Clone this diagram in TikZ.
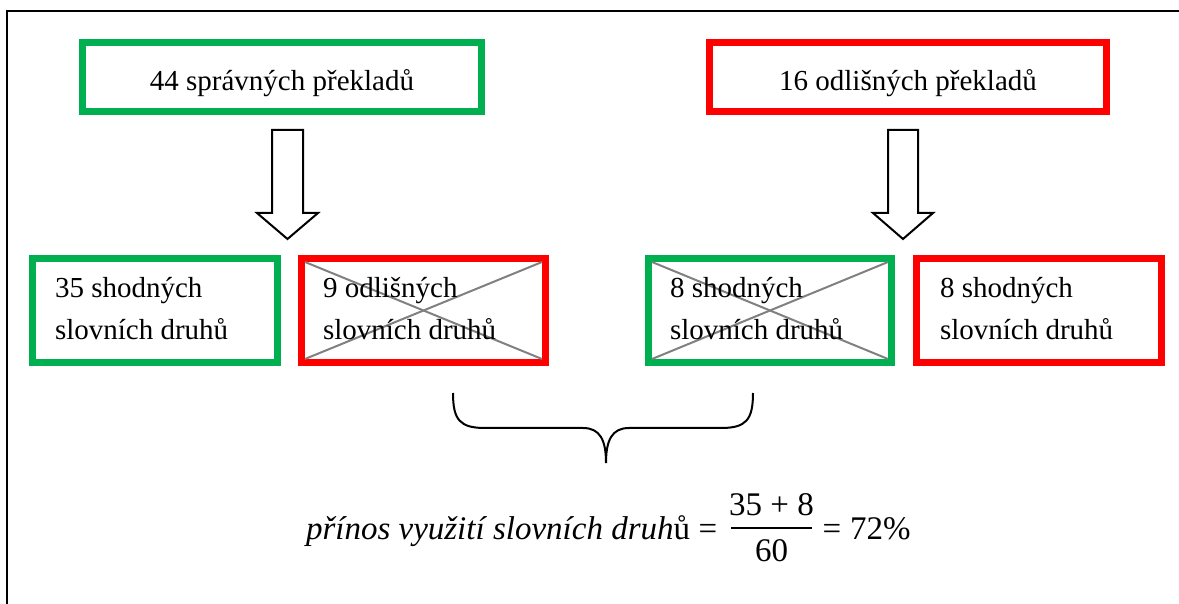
\documentclass[tikz,border=0pt]{standalone}
\usepackage{fontspec}
\setmainfont{Liberation Serif}
\definecolor{cgreen}{HTML}{00B050}
\definecolor{cred}{HTML}{FF0000}
\tikzset{
  box/.style={draw, line width=3.5pt, rectangle, inner sep=0pt, outer sep=0pt},
  gbox/.style={box, draw=cgreen},
  rbox/.style={box, draw=cred},
  xline/.style={draw=gray, line width=1pt},
  lbl/.style={inner sep=0pt, outer sep=0pt, font=\fontsize{14.5}{21}\selectfont},
  blk/.style={lbl, anchor=base west, align=left},
  eq/.style={inner sep=0pt, outer sep=0pt, font=\fontsize{16.5}{19}\selectfont},
  blockarrow/.style={draw=black, line width=1pt, fill=white, line join=miter},
  frameline/.style={draw=black, line width=1pt},
}
\begin{document}
\begin{tikzpicture}[x=0.5pt,y=-0.5pt]
\useasboundingbox (0,0) rectangle (1179,604);
% frame
\draw[frameline] (1179,11) -- (7,11) -- (7,604);
% top boxes
\node[gbox, minimum width=199.5pt, minimum height=34.5pt] (t1) at (282,77) {};
\node[rbox, minimum width=198.5pt, minimum height=34.5pt] (t2) at (908,77) {};
\node[lbl, anchor=base] (t1l) at (282,91) {44 správných překladů};
\node[lbl, anchor=base] (t2l) at (908,91) {16 odlišných překladů};
% block arrows
\draw[blockarrow] (272,130) -- (303,130) -- (303,213) -- (318,213) -- (287.5,239) -- (257,213) -- (272,213) -- cycle;
\draw[blockarrow] (888,130) -- (918,130) -- (918,213) -- (933,213) -- (903,239) -- (873,213) -- (888,213) -- cycle;
% bottom boxes
\node[gbox, minimum width=122.5pt, minimum height=52pt] (b1) at (155,310.5) {};
\node[rbox, minimum width=122pt, minimum height=52pt] (b2) at (423.5,310.5) {};
\node[gbox, minimum width=121.5pt, minimum height=52pt] (b3) at (770,310.5) {};
\node[rbox, minimum width=122.5pt, minimum height=52pt] (b4) at (1039,310.5) {};
% crosses
\draw[xline] ([shift={(3.5,3.5)}]b2.north west) -- ([shift={(-3.5,-3.5)}]b2.south east);
\draw[xline] ([shift={(3.5,-3.5)}]b2.south west) -- ([shift={(-3.5,3.5)}]b2.north east);
\draw[xline] ([shift={(3.5,3.5)}]b3.north west) -- ([shift={(-3.5,-3.5)}]b3.south east);
\draw[xline] ([shift={(3.5,-3.5)}]b3.south west) -- ([shift={(-3.5,3.5)}]b3.north east);
% labels (base = baseline of last line)
\node[blk] (b1l) at (55,340) {35 shodných\\slovních druhů};
\node[blk] (b2l) at (323,340) {9 odlišných\\slovních druhů};
\node[blk] (b3l) at (670,340) {8 shodných\\slovních druhů};
\node[blk] (b4l) at (940,340) {8 shodných\\slovních druhů};
% brace
\draw[line width=1pt] (453,393) .. controls (453,420) and (460,428) .. (485,428) -- (583,428) .. controls (600,428) and (606,440) .. (606,463);
\draw[line width=1pt] (753,393) .. controls (753,420) and (746,428) .. (721,428) -- (629,428) .. controls (612,428) and (606,440) .. (606,463);
% equation
\node[eq, anchor=base west] (eql) at (306,539) {\itshape přínos využití slovních druh\upshape ů};
\node[eq, anchor=base] (eq1) at (708,539) {=};
\node[eq, anchor=base] (num) at (771.5,516) {35 + 8};
\node[eq, anchor=base] (den) at (771.5,561) {60};
\draw[line width=1pt] (731,528) -- (812,528);
\node[eq, anchor=base] (eq2) at (832,539) {=};
\node[eq, anchor=base west] (res) at (850,539) {72\%};
\end{tikzpicture}
\end{document}
